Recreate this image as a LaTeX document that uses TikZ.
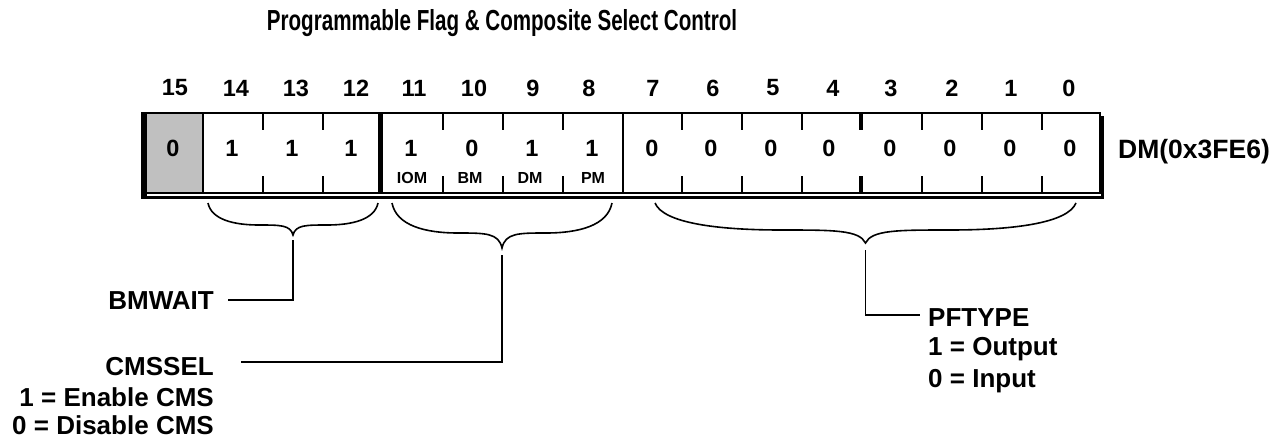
\documentclass[tikz,border=0pt]{standalone}
\usepackage{fontspec}
\setmainfont{Liberation Sans}
\usetikzlibrary{calc}
\definecolor{cellgray}{RGB}{192,192,192}
\tikzset{
  lbl/.style={inner sep=0pt, font=\bfseries\fontsize{26}{30}\selectfont},
  bitnum/.style={inner sep=0pt, font=\bfseries\fontsize{23.5}{28}\selectfont},
  bitval/.style={inner sep=0pt, font=\bfseries\fontsize{23.5}{28}\selectfont},
  sublbl/.style={inner sep=0pt, font=\bfseries\fontsize{16}{18}\selectfont},
  thin/.style={line width=1.4pt},
  bracepath/.style={line width=1.6pt},
  conn/.style={line width=1.6pt},
}
\begin{document}
\begin{tikzpicture}[x=1pt,y=-1pt]
\useasboundingbox (0,0) rectangle (1283,440);
% title
\node[inner sep=0pt] (title) at (502,23) {\scalebox{0.71}[1]{\bfseries\fontsize{29}{32}\selectfont Programmable Flag \& Composite Select Control}};
% bit numbers
\foreach \b/\x in {15/175,14/236,13/296,12/356,11/414,10/474,9/533,8/589,7/653,6/713,5/773,4/833,3/891,2/952,1/1011,0/1069}
  \node[bitnum] (n\b) at (\x,88) {\b};
% register box
\fill[cellgray] (143,113) rectangle (203,193);
\draw[line width=3.5pt] (141,197.5) -| (1102.5,116);
\draw[thin] (143,113) rectangle (1100,193);
\draw[line width=6pt] (143.5,112.3) -- (143.5,196);
\draw[line width=5pt] (380.5,112.3) -- (380.5,193.7);
\draw[thin] (203,113) -- (203,193);
\draw[thin] (623,113) -- (623,193);
\foreach \x in {263,323,443,503,563,682,742,802,922,982,1042}{
  \draw[thin] (\x,113) -- (\x,130);
  \draw[thin] (\x,176) -- (\x,193);
}
\draw[line width=4pt] (860.5,112.3) -- (860.5,130);
\draw[line width=4pt] (860.5,176) -- (860.5,193.7);
% values
\foreach \b/\x/\v in {15/173/0,14/232/1,13/292/1,12/351/1,11/411/1,10/472/0,9/532/1,8/592/1,7/652/0,6/711/0,5/771/0,4/829/0,3/890/0,2/950/0,1/1010/0,0/1070/0}
  \node[bitval] (v\b) at (\x,148) {\v};
\node[sublbl] (iom) at (412,178) {IOM};
\node[sublbl] (bm) at (470,178) {BM};
\node[sublbl] (dm) at (530,178) {DM};
\node[sublbl] (pm) at (593,178) {PM};
\node[inner sep=0pt, anchor=west, font=\bfseries\fontsize{26.5}{30}\selectfont] (addr) at (1118,152) {DM(0x3FE6)};
% braces
\foreach \xa/\xb/\a/\t/\nm in {208/378/22/32/b1, 392/612/30/45/b2, 655/1076/27/40/b3}{
  \pgfmathsetmacro\xm{(\xa+\xb)/2}
  \pgfmathsetmacro\L{(\xb-\xa)/2}
  \pgfmathsetmacro\ya{203+\a}
  \pgfmathsetmacro\yt{203+\t}
  \draw[bracepath] (\xa,203)
     .. controls ({\xa+0.04*\L},{203+0.75*\a}) and ({\xa+0.3*\L},\ya) .. ({\xa+0.6*\L},\ya)
     .. controls ({\xm-0.15*\L},\ya) and ({\xm-0.03*\L},\ya) .. (\xm,\yt)
     .. controls ({\xm+0.03*\L},\ya) and ({\xm+0.15*\L},\ya) .. ({\xb-0.6*\L},\ya)
     .. controls ({\xb-0.3*\L},\ya) and ({\xb-0.04*\L},{203+0.75*\a}) .. (\xb,203);
  \coordinate (\nm) at (\xm,\yt);
}
% labels
\node[lbl, anchor=east] (bmwait) at (214,301) {BMWAIT};
\node[lbl, anchor=east] (cmssel) at (214,367) {CMSSEL};
\node[lbl, anchor=east] (en) at (214,397) {1 = Enable CMS};
\node[lbl, anchor=east] (dis) at (214,425) {0 = Disable CMS};
\node[lbl, anchor=west] (pft) at (928,318) {PFTYPE};
\node[lbl, anchor=west] (out) at (928,349) {1 = Output};
\node[lbl, anchor=west] (inp) at (928,381) {0 = Input};
\coordinate (e1) at (228,300);
\coordinate (e2) at (241,362);
\coordinate (e3) at (920,315);
% connectors
\draw[conn] ([yshift=-5pt]b1) |- (e1);
\draw[conn] ([yshift=-7pt]b2) |- (e2);
\draw[conn] ([yshift=-7pt]b3) |- (e3);
\end{tikzpicture}
\end{document}
